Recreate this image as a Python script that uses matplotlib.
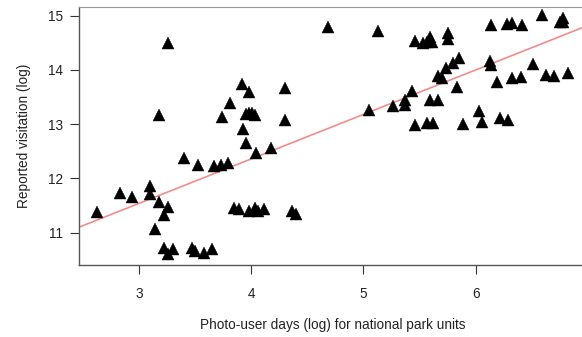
import matplotlib
matplotlib.use("Agg")
import matplotlib.pyplot as plt

plt.rcParams['font.family'] = ['Liberation Sans', 'DejaVu Sans']

# log photo-user days (x) vs log reported visitation (y)
photo_days = [
    2.63, 2.83, 2.94, 3.10, 3.10, 3.18, 3.26, 3.22, 3.14,
    3.22, 3.26, 3.30, 3.47, 3.50, 3.58, 3.65,
    3.85, 3.89, 3.98, 4.03, 4.06, 4.11, 4.36, 4.40,
    3.26, 3.18, 3.40, 3.53, 3.67, 3.73, 3.79, 3.74, 3.81, 3.92, 3.98,
    3.95, 3.98, 4.01, 4.03, 3.93, 3.95, 4.04, 4.18, 4.30, 4.30,
    4.68, 5.13, 5.05, 5.26, 5.37, 5.37, 5.43, 5.46, 5.57, 5.62, 5.59,
    5.66, 5.83, 5.89, 6.03, 6.06, 6.22, 6.29,
    5.46, 5.53, 5.57, 5.59, 5.61, 5.75, 5.75, 6.14, 6.28, 6.32, 6.41,
    6.59, 6.75, 6.78, 6.78,
    5.66, 5.70, 5.74, 5.80, 5.85, 6.13, 6.14, 6.19, 6.32, 6.40, 6.51,
    6.63, 6.70, 6.82,
]
visitation = [
    11.38, 11.73, 11.66, 11.86, 11.71, 11.57, 11.47, 11.33, 11.07,
    10.72, 10.61, 10.70, 10.72, 10.66, 10.63, 10.70,
    11.46, 11.44, 11.40, 11.46, 11.40, 11.44, 11.40, 11.34,
    14.50, 13.17, 12.38, 12.25, 12.23, 12.25, 12.28, 13.13, 13.39, 13.74, 13.59,
    13.19, 13.21, 13.21, 13.17, 12.91, 12.65, 12.47, 12.56, 13.67, 13.08,
    14.79, 14.72, 13.26, 13.34, 13.45, 13.35, 13.61, 12.99, 13.02, 13.02, 13.45,
    13.45, 13.69, 13.00, 13.24, 13.04, 13.11, 13.08,
    14.53, 14.50, 14.52, 14.61, 14.52, 14.68, 14.57, 14.83, 14.85, 14.87, 14.83,
    15.01, 14.88, 14.96, 14.88,
    13.89, 13.85, 14.04, 14.13, 14.22, 14.17, 14.09, 13.78, 13.85, 13.87, 14.11,
    13.91, 13.89, 13.94,
]

# fitted regression line (intercept, slope) as drawn
fit_intercept = 9.08
fit_slope = 0.82

x_ticks = [3, 4, 5, 6]
y_ticks = [11, 12, 13, 14, 15]

fig = plt.figure(figsize=(5.82, 3.37), dpi=100)
ax = fig.add_axes([79 / 582, 1 - 265 / 337, (586 - 79) / 582, (265 - 7) / 337])

ax.set_xlim(2.466, 6.983)
ax.set_ylim(10.405, 15.16)

xl = ax.get_xlim()
ax.plot(xl, [fit_intercept + fit_slope * v for v in xl], color='#f28c8c', lw=1.2, zorder=1)

ax.plot(photo_days, visitation, linestyle='none', marker='^', markersize=8,
        color='black', markeredgecolor='black', markeredgewidth=0.3, zorder=2)

ax.set_xticks(x_ticks)
ax.set_yticks(y_ticks)
ax.tick_params(direction='out', length=6.5, width=0.8, colors='#333333',
               labelsize=9.8, labelcolor='#222222', pad=5)
ax.tick_params(axis='x', pad=9)

for side in ['left', 'bottom']:
    ax.spines[side].set_color('#555555')
    ax.spines[side].set_linewidth(1.0)
ax.spines['top'].set_color('#999999')
ax.spines['right'].set_visible(False)

ax.set_xlabel('Photo-user days (log) for national park units', fontsize=9.8, color='#222222')
ax.set_ylabel('Reported visitation (log)', fontsize=9.8, color='#222222')
ax.xaxis.set_label_coords(0.5, -0.205)
ax.yaxis.set_label_coords(-0.095, 0.5)

fig.savefig('out.png', dpi=100)
